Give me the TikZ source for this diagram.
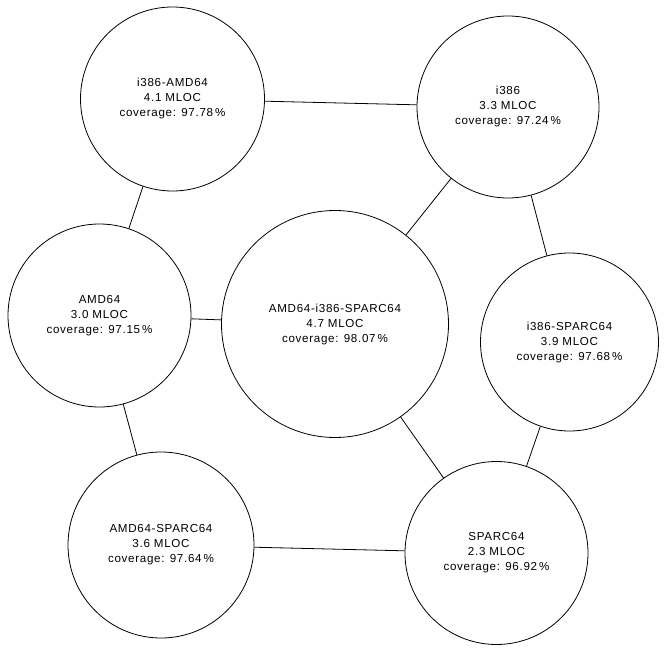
\documentclass[tikz,border=0pt]{standalone}
\usepackage{fontspec}
\setmainfont[LetterSpace=6]{Liberation Sans}
\begin{document}
\begin{tikzpicture}[x=1pt,y=-1pt,
  blob/.style={draw=black,line width=0.8pt,circle,inner sep=0pt,align=center,
    font=\fontsize{11.6}{15}\selectfont},
  link/.style={draw=black,line width=0.8pt}]
\useasboundingbox (0,0) rectangle (670,650);
\node[blob,minimum size=184pt] (ia) at (172.5,99) {i386-AMD64\\4.1 MLOC\\coverage: 97.78\,\%};
\node[blob,minimum size=182pt] (i) at (508,107) {i386\\3.3 MLOC\\coverage: 97.24\,\%};
\node[blob,minimum size=183pt] (a) at (99.5,315.5) {AMD64\\3.0 MLOC\\coverage: 97.15\,\%};
\node[blob,minimum size=227pt] (ais) at (335,324) {AMD64-i386-SPARC64\\4.7 MLOC\\coverage: 98.07\,\%};
\node[blob,minimum size=178pt] (is) at (569.5,342) {i386-SPARC64\\3.9 MLOC\\coverage: 97.68\,\%};
\node[blob,minimum size=186pt] (as) at (161,545) {AMD64-SPARC64\\3.6 MLOC\\coverage: 97.64\,\%};
\node[blob,minimum size=183pt] (s) at (496.5,553) {SPARC64\\2.3 MLOC\\coverage: 96.92\,\%};
\draw[link] (ia) -- (i);
\draw[link] (ia) -- (a);
\draw[link] (i) -- (ais);
\draw[link] (i) -- (is);
\draw[link] (a) -- (ais);
\draw[link] (a) -- (as);
\draw[link] (ais) -- (s);
\draw[link] (is) -- (s);
\draw[link] (as) -- (s);
\end{tikzpicture}
\end{document}
